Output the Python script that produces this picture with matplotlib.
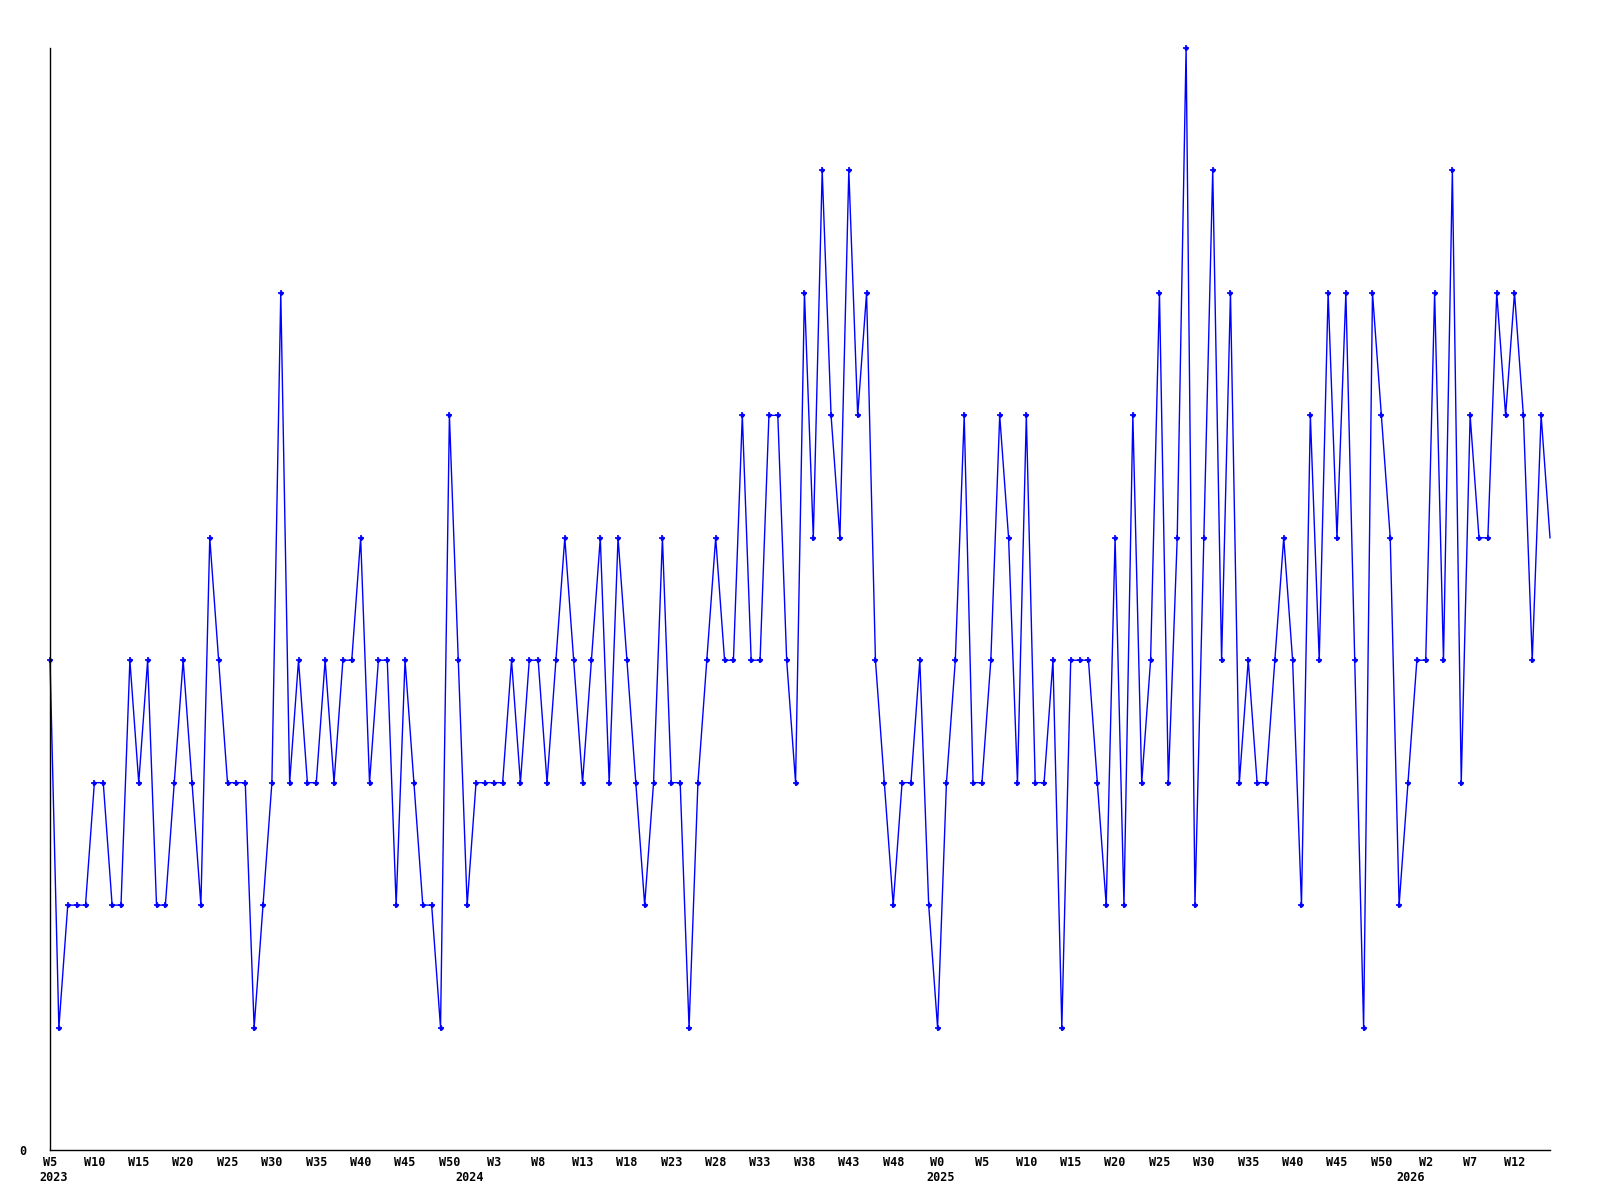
#!/usr/bin/env python3
import matplotlib
matplotlib.use("Agg")
import matplotlib.pyplot as plt

# weekly counts, one per week starting 2023 W5
values = [4, 1, 2, 2, 2, 3, 3, 2, 2, 4, 3, 4, 2, 2, 3, 4, 3, 2, 5, 4,
          3, 3, 3, 1, 2, 3, 7, 3, 4, 3, 3, 4, 3, 4, 4, 5, 3, 4, 4, 2,
          4, 3, 2, 2, 1, 6, 4, 2, 3, 3, 3, 3, 4, 3, 4, 4, 3, 4, 5, 4,
          3, 4, 5, 3, 5, 4, 3, 2, 3, 5, 3, 3, 1, 3, 4, 5, 4, 4, 6, 4,
          4, 6, 6, 4, 3, 7, 5, 8, 6, 5, 8, 6, 7, 4, 3, 2, 3, 3, 4, 2,
          1, 3, 4, 6, 3, 3, 4, 6, 5, 3, 6, 3, 3, 4, 1, 4, 4, 4, 3, 2,
          5, 2, 6, 3, 4, 7, 3, 5, 9, 2, 5, 8, 4, 7, 3, 4, 3, 3, 4, 5,
          4, 2, 6, 4, 7, 5, 7, 4, 1, 7, 6, 5, 2, 3, 4, 4, 7, 4, 8, 3,
          6, 5, 5, 7, 6, 7, 6, 4, 6, 5]

week_labels = ["W5", "W10", "W15", "W20", "W25", "W30", "W35", "W40", "W45", "W50",
               "W3", "W8", "W13", "W18", "W23", "W28", "W33", "W38", "W43", "W48",
               "W0", "W5", "W10", "W15", "W20", "W25", "W30", "W35", "W40", "W45", "W50",
               "W2", "W7", "W12"]
tick_step = 5

years = ["2023", "2024", "2025", "2026"]
year_pos = [0.4, 47.3, 100.3, 153.3]   # where the year label sits (week index)

blue = "#0000ff"
font = "DejaVu Sans Mono"

x = list(range(len(values)))

fig = plt.figure(figsize=(16, 12), dpi=100)
ax = fig.add_axes([50 / 1600, 50 / 1200, 1500 / 1600, 1102 / 1200])

ax.plot(x, values, color=blue, linewidth=1, clip_on=False)
# small cross markers, last week left without one
ax.plot(x[:-1], values[:-1], linestyle="none", color=blue, marker="+",
        markersize=4, markeredgewidth=1.2, clip_on=False)
ax.plot(x[:-1], values[:-1], linestyle="none", color=blue, marker="o",
        markersize=2, clip_on=False)

ax.set_xlim(0, len(values) - 1)
ax.set_ylim(0, max(values))

for s in ["top", "right"]:
    ax.spines[s].set_visible(False)
for s in ["left", "bottom"]:
    ax.spines[s].set_color("black")
    ax.spines[s].set_linewidth(1)

ax.set_yticks([0])
ax.set_yticklabels(["0"], fontfamily=font, fontweight="bold", fontsize=8.5)
ax.tick_params(axis="y", length=0, pad=17)

ticks = list(range(0, len(values), tick_step))
ax.set_xticks(ticks)
ax.set_xticklabels(week_labels, fontfamily=font, fontweight="bold", fontsize=8.5)
ax.tick_params(axis="x", length=0, pad=4)

for yr, p in zip(years, year_pos):
    ax.annotate(yr, xy=(p, 0), xycoords=("data", "axes fraction"),
                xytext=(0, -19.5), textcoords="offset points",
                ha="center", va="center", fontfamily=font, fontweight="bold",
                fontsize=8.5, annotation_clip=False)

plt.savefig("out.png", dpi=100)
